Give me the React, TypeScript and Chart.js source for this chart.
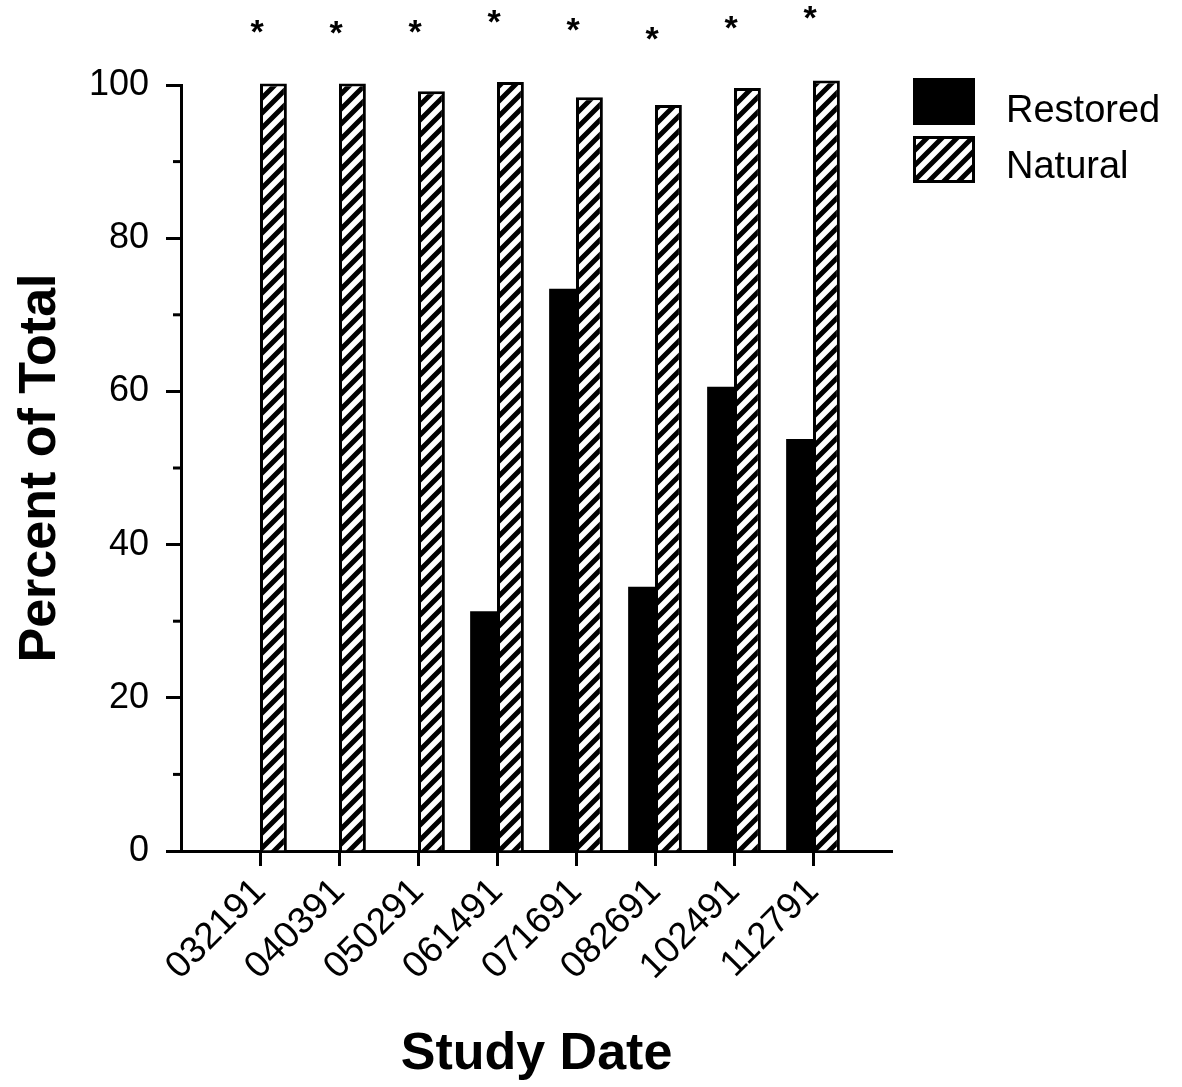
import React, { useEffect, useRef } from 'react';
import { Chart, registerables } from 'chart.js';

Chart.register(...registerables);

const categories = ['032191', '040391', '050291', '061491', '071691', '082691', '102491', '112791'];
const restored = [0, 0, 0, 31.3, 73.4, 34.5, 60.6, 53.8];
const natural = [100.2, 100.2, 99.2, 100.4, 98.4, 97.4, 99.6, 100.6];
const asteriskLevel = [107.6, 107.4, 107.6, 108.9, 107.8, 106.7, 108.1, 109.4];
const yMajorTicks = [0, 20, 40, 60, 80, 100];
const yMinorTicks = [10, 30, 50, 70, 90];
const seriesNames = ['Restored', 'Natural'];
const xTitle = 'Study Date';
const yTitle = 'Percent of Total';

const FONT = "'Liberation Sans', Arial, Helvetica, sans-serif";

function makeHatch(): CanvasPattern | string {
  const size = 15;
  const c = document.createElement('canvas');
  c.width = size;
  c.height = size;
  const g = c.getContext('2d');
  if (!g) return '#fff';
  g.fillStyle = '#fff';
  g.fillRect(0, 0, size, size);
  g.strokeStyle = '#000';
  g.lineWidth = 5;
  g.beginPath();
  g.moveTo(-4, size + 4);
  g.lineTo(size + 4, -4);
  g.moveTo(-4, 4);
  g.lineTo(4, -4);
  g.moveTo(size - 4, size + 4);
  g.lineTo(size + 4, size - 4);
  g.stroke();
  const ctx = document.createElement('canvas').getContext('2d');
  const p = ctx ? ctx.createPattern(c, 'repeat') : null;
  return p || '#fff';
}

export default function App() {
  const ref = useRef<HTMLCanvasElement | null>(null);

  useEffect(() => {
    if (!ref.current) return;
    const hatch = makeHatch();
    const labels = ['', ...categories, ''];

    const extras = {
      id: 'extras',
      afterDatasetsDraw(chart: any) {
        const { ctx, chartArea } = chart;
        const xs = chart.scales.x;
        const ys = chart.scales.y;
        ctx.save();
        // minor ticks
        ctx.strokeStyle = '#000';
        ctx.lineWidth = 3;
        yMinorTicks.forEach((v) => {
          const y = ys.getPixelForValue(v);
          ctx.beginPath();
          ctx.moveTo(chartArea.left - 8, y);
          ctx.lineTo(chartArea.left, y);
          ctx.stroke();
        });
        // asterisks
        ctx.fillStyle = '#000';
        ctx.font = `bold 34px ${FONT}`;
        ctx.textAlign = 'center';
        ctx.textBaseline = 'alphabetic';
        categories.forEach((_, i) => {
          const x = xs.getPixelForValue(i + 1) - 3;
          const y = ys.getPixelForValue(asteriskLevel[i]);
          ctx.fillText('*', x, y + 16);
        });
        // legend
        const bx = 913, bw = 62, bh = 47;
        const rows = [78, 136];
        ctx.fillStyle = '#000';
        ctx.fillRect(bx, rows[0], bw, bh);
        ctx.fillStyle = hatch as any;
        ctx.fillRect(bx, rows[1], bw, bh);
        ctx.lineWidth = 3;
        ctx.strokeStyle = '#000';
        ctx.strokeRect(bx + 1.5, rows[1] + 1.5, bw - 3, bh - 3);
        ctx.fillStyle = '#000';
        ctx.font = `38px ${FONT}`;
        ctx.textAlign = 'left';
        ctx.fillText(seriesNames[0], 1006, rows[0] + 44);
        ctx.fillText(seriesNames[1], 1006, rows[1] + 42);
        ctx.restore();
      },
    };

    const chart = new Chart(ref.current, {
      type: 'bar',
      data: {
        labels,
        datasets: [
          {
            label: seriesNames[0],
            data: [null, ...restored, null],
            backgroundColor: '#000',
            borderColor: '#000',
            borderWidth: 0,
            clip: false as any,
          },
          {
            label: seriesNames[1],
            data: [null, ...natural, null],
            backgroundColor: hatch as any,
            borderColor: '#000',
            borderWidth: 3,
            clip: false as any,
          },
        ],
      },
      options: {
        responsive: false,
        animation: false,
        devicePixelRatio: 1,
        layout: { padding: { top: 85, right: 290, left: 0, bottom: 0 } },
        plugins: { legend: { display: false }, tooltip: { enabled: false } },
        datasets: { bar: { categoryPercentage: 0.68, barPercentage: 1.0 } },
        scales: {
          x: {
            offset: false,
            grid: {
              offset: false,
              drawOnChartArea: false,
              drawTicks: true,
              tickLength: 15,
              tickWidth: 3,
              tickColor: (c: any) => (c.index === 0 || c.index === labels.length - 1 ? 'rgba(0,0,0,0)' : '#000'),
            },
            border: { display: true, color: '#000', width: 3 },
            ticks: {
              autoSkip: false,
              minRotation: 45,
              maxRotation: 45,
              color: '#000',
              font: { family: FONT, size: 37 },
              padding: 4,
            },
            title: {
              display: true,
              text: xTitle,
              color: '#000',
              font: { family: FONT, size: 52, weight: 'bold' },
              padding: { top: 0, bottom: 1 },
            },
            afterFit: (s: any) => {
              s.height = 236;
            },
          },
          y: {
            min: 0,
            max: 100,
            afterBuildTicks: (s: any) => {
              s.ticks = yMajorTicks.map((v) => ({ value: v }));
            },
            grid: {
              drawOnChartArea: false,
              drawTicks: true,
              tickLength: 15,
              tickWidth: 3,
              tickColor: '#000',
            },
            border: { display: true, color: '#000', width: 3 },
            ticks: {
              color: '#000',
              font: { family: FONT, size: 36 },
              padding: 17,
            },
            title: {
              display: true,
              text: yTitle,
              color: '#000',
              font: { family: FONT, size: 52, weight: 'bold' },
              padding: { top: 9, bottom: 0 },
            },
            afterFit: (s: any) => {
              s.width = 181;
            },
          },
        },
      },
      plugins: [extras],
    });

    return () => chart.destroy();
  }, []);

  return (
    <div style={{ position: 'absolute', left: 0, top: 0, width: 1182, height: 1087, background: '#fff' }}>
      <canvas ref={ref} width={1182} height={1087} style={{ display: 'block' }} />
    </div>
  );
}
